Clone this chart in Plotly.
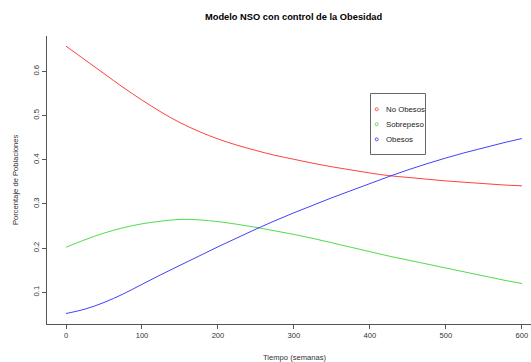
import plotly.graph_objects as go

semanas = [0, 25, 50, 75, 100, 125, 150, 175, 200, 225, 250, 275, 300,
           325, 350, 375, 400, 425, 450, 475, 500, 525, 550, 575, 600]
no_obesos = [0.657, 0.626, 0.595, 0.564, 0.535, 0.508, 0.484, 0.464, 0.447,
             0.433, 0.421, 0.410, 0.401, 0.392, 0.384, 0.377, 0.370, 0.364,
             0.360, 0.356, 0.352, 0.349, 0.346, 0.343, 0.341]
sobrepeso = [0.202, 0.219, 0.234, 0.246, 0.255, 0.261, 0.265, 0.264, 0.260,
             0.254, 0.247, 0.239, 0.231, 0.222, 0.212, 0.202, 0.192, 0.182,
             0.173, 0.164, 0.155, 0.146, 0.137, 0.128, 0.120]
obesos = [0.052, 0.062, 0.077, 0.096, 0.118, 0.140, 0.161, 0.182, 0.203,
          0.223, 0.243, 0.262, 0.280, 0.297, 0.314, 0.330, 0.346, 0.362,
          0.377, 0.391, 0.404, 0.416, 0.427, 0.438, 0.448]

x_ticks = [0, 100, 200, 300, 400, 500, 600]
y_ticks = [0.1, 0.2, 0.3, 0.4, 0.5, 0.6]

series = [("No Obesos", no_obesos, "#ff2a2a"),
          ("Sobrepeso", sobrepeso, "#3ad83a"),
          ("Obesos", obesos, "#2a2aff")]

FONT = "Liberation Sans, Arial, sans-serif"
W, H = 531, 362
ML, MR, MT, MB = 47, 0, 36, 38
PW, PH = W - ML - MR, H - MT - MB


def px(xp):
    return (xp - ML) / PW


def py(yp):
    return (H - MB - yp) / PH


fig = go.Figure()
for name, vals, col in series:
    fig.add_trace(go.Scatter(x=semanas, y=vals, mode="lines", name=name,
                             line=dict(color=col, width=0.9, shape="spline",
                                       smoothing=1), showlegend=False))

fig.update_layout(
    width=W, height=H,
    margin=dict(l=ML, r=MR, t=MT, b=MB),
    paper_bgcolor="white", plot_bgcolor="white",
    font=dict(family=FONT, size=7.6, color="#333"),
    showlegend=False,
    xaxis=dict(range=[-25, 612], tickvals=x_ticks, ticks="outside", ticklen=4,
               tickcolor="#555", showline=True, linecolor="#555", linewidth=1,
               showgrid=False, zeroline=False, tickfont=dict(size=7.6, color="#333")),
    yaxis=dict(range=[0.0283, 0.680], tickvals=y_ticks, ticks="outside", ticklen=4,
               tickcolor="#555", showline=True, linecolor="#555", linewidth=1,
               showgrid=False, zeroline=False, tickangle=-90,
               tickfont=dict(size=7.6, color="#333")),
)

fig.add_annotation(text="<b>Modelo NSO con control de la Obesidad</b>",
                   xref="paper", yref="paper", x=px(293.5), y=py(17),
                   showarrow=False, font=dict(size=9.3, color="black"),
                   xanchor="center", yanchor="middle")
fig.add_annotation(text="Tiempo (semanas)", xref="paper", yref="paper",
                   x=px(294), y=py(357.5), showarrow=False,
                   font=dict(size=7.6, color="#333"), xanchor="center", yanchor="middle")
fig.add_annotation(text="Porcentaje de Poblaciones", xref="paper", yref="paper",
                   x=px(15), y=py(180), textangle=-90, showarrow=False,
                   font=dict(size=7.6, color="#333"), xanchor="center", yanchor="middle")

# legend box drawn manually
fig.add_shape(type="rect", xref="paper", yref="paper",
              x0=px(370.5), x1=px(425.5), y0=py(154.5), y1=py(93.5),
              line=dict(color="#666", width=1), fillcolor="white", layer="above")
for i, (name, vals, col) in enumerate(series):
    yc = 109.3 + i * 15
    fig.add_shape(type="circle", xref="paper", yref="paper",
                  x0=px(375.2), x1=px(378.2), y0=py(yc + 1.5), y1=py(yc - 1.5),
                  line=dict(color=col, width=0.8), layer="above")
    fig.add_annotation(text=name, xref="paper", yref="paper",
                       x=px(383.5), y=py(yc), showarrow=False, xanchor="left",
                       yanchor="middle", font=dict(size=7.8, color="#222"))

fig.write_html("out.html", config={"displayModeBar": False},
               post_script="document.body.style.margin='0';")
